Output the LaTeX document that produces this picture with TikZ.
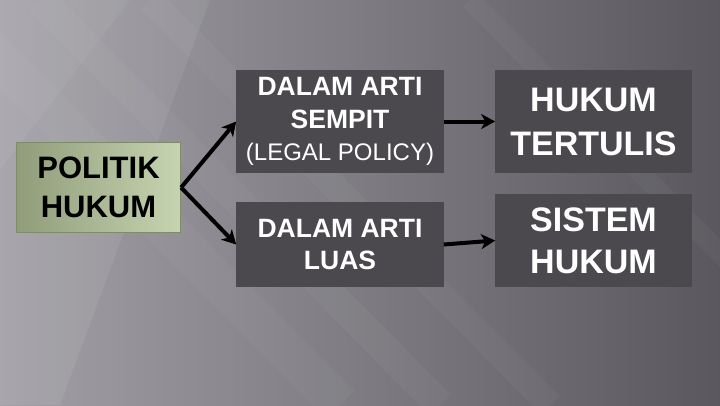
\documentclass[tikz,border=0pt]{standalone}
\usepackage{fontspec}
\setmainfont{Liberation Sans}
\usetikzlibrary{arrows.meta}
\definecolor{bgleft}{HTML}{A2A0A6}
\definecolor{bgmid}{HTML}{706E74}
\definecolor{bgright}{HTML}{5A585E}
\definecolor{boxgray}{HTML}{4B494E}
\definecolor{greenA}{HTML}{909C7A}
\definecolor{greenB}{HTML}{C6D4B2}
\definecolor{greenedge}{HTML}{7E8C68}

\begin{document}
\begin{tikzpicture}[x=1bp,y=-1bp,
	darkbox/.style={fill=boxgray,text=white,align=center,inner sep=0pt},
	greenbox/.style={draw=greenedge,line width=0.8bp,left color=greenA,right color=greenB,align=center,inner sep=0pt},
	link/.style={line width=4bp,-{Stealth[length=14bp,width=15bp,inset=4bp]}}]
	\useasboundingbox (0,0) rectangle (720,405);
	\shade[left color=bgleft,middle color=bgmid,right color=bgright] (0,0) rectangle (720,405);
	\begin{scope}
		\clip (0,0) rectangle (720,405);
		\fill[white,opacity=.07] (0,0) -- (210,0) -- (60,405) -- (0,405) -- cycle;
		\fill[white,opacity=.05] (0,0) -- (130,0) -- (0,170) -- cycle;
		\foreach \s/\w in {-60/40,40/30,150/26,470/20}
			\draw[white,opacity=.03,line width=\w] (\s,0) -- (\s+400,405);
	\end{scope}

	\node[greenbox,minimum width=165,minimum height=91,font=\fontsize{31bp}{38.5bp}\selectfont\bfseries] (pol) at (98.5,187.5)
		{POLITIK\\HUKUM};
	\node[darkbox,minimum width=208,minimum height=103,font=\fontsize{26.5bp}{32.7bp}\selectfont\bfseries] (sem) at (340,121.5)
		{DALAM ARTI\\SEMPIT\\{\fontsize{24bp}{33bp}\selectfont\mdseries (LEGAL POLICY)}};
	\node[darkbox,minimum width=208,minimum height=85,font=\fontsize{26.5bp}{32.5bp}\selectfont\bfseries] (luas) at (340,244.5)
		{DALAM ARTI\\LUAS};
	\node[darkbox,minimum width=197,minimum height=103,font=\fontsize{34bp}{44bp}\selectfont\bfseries] (tul) at (593.5,121.5)
		{HUKUM\\TERTULIS};
	\node[darkbox,minimum width=197,minimum height=93,font=\fontsize{34bp}{42bp}\selectfont\bfseries] (sis) at (593.5,240.5)
		{SISTEM\\HUKUM};

	\draw[link] (pol.east) -- (sem.west);
	\draw[link] (pol.east) -- (luas.west);
	\draw[link] (sem.east) -- (tul.west);
	\draw[link] (luas.east) -- (sis.west);
\end{tikzpicture}
\end{document}
